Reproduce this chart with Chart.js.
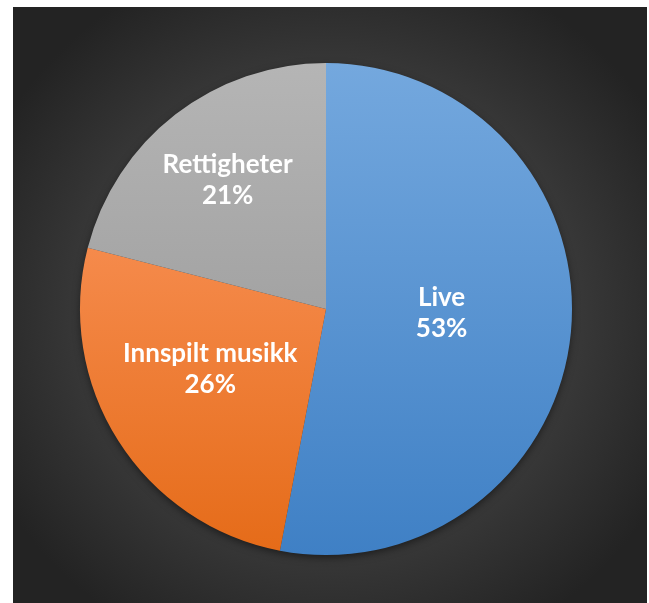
<!DOCTYPE html>
<html>
<head>
<meta charset="utf-8">
<script src="https://cdn.jsdelivr.net/npm/chart.js@4"></script>
<style>
  html, body { margin: 0; padding: 0; background: #fff; }
  #wrap {
    position: absolute; left: 13px; top: 7px; width: 634px; height: 596px;
    background: radial-gradient(ellipse 60% 62% at 50% 51%, #4a4a4a 0%, #3e3e3e 55%, #2c2c2c 85%, #232323 100%);
  }
  #holder { position: absolute; left: 0; top: 0; width: 649px; height: 603px; }
</style>
</head>
<body>
<div id="wrap"></div>
<div id="holder"><canvas id="pie"></canvas></div>
<script>
var categories = ['Live', 'Innspilt musikk', 'Rettigheter'];
var shares = [53, 26, 21];

// vertical gradient stops per slice, over the pie's height
var sliceStops = [
    [[0, '#74a8de'], [1, '#3f80c5']],
    [[0, '#f68c4d'], [0.38, '#f58a4b'], [1, '#e56b18']],
    [[0, '#b5b5b5'], [0.5, '#a3a3a3'], [1, '#9c9c9c']]
];
// label anchor per slice: part of the radius, plus a small turn in degrees
var labelRadius = [0.47, 0.53, 0.66];
var labelTurn = [-3.5, 5, 0.5];

function sliceFill(ctx) {
    var chart = ctx.chart;
    var area = chart.chartArea;
    if (!area) return sliceStops[ctx.dataIndex][0][1];
    var g = chart.ctx.createLinearGradient(0, area.top, 0, area.bottom);
    sliceStops[ctx.dataIndex].forEach(function (s) { g.addColorStop(s[0], s[1]); });
    return g;
}

var pieShadow = {
    id: 'pieShadow',
    beforeDatasetsDraw: function (chart) {
        var arc = chart.getDatasetMeta(0).data[0];
        if (!arc) return;
        var c = chart.ctx;
        c.save();
        c.shadowColor = 'rgba(0,0,0,0.55)';
        c.shadowBlur = 9;
        c.shadowOffsetY = 3;
        c.fillStyle = '#3a3a3a';
        c.beginPath();
        c.arc(arc.x, arc.y, arc.outerRadius - 1, 0, Math.PI * 2);
        c.fill();
        c.restore();
    }
};

var sliceLabels = {
    id: 'sliceLabels',
    afterDatasetsDraw: function (chart) {
        var c = chart.ctx;
        var meta = chart.getDatasetMeta(0);
        c.save();
        c.fillStyle = '#ffffff';
        c.font = 'bold 26px Lato, "Open Sans", sans-serif';
        c.textAlign = 'center';
        c.textBaseline = 'middle';
        meta.data.forEach(function (arc, i) {
            var mid = (arc.startAngle + arc.endAngle) / 2 + labelTurn[i] * Math.PI / 180;
            var r = arc.outerRadius * labelRadius[i];
            var x = arc.x + Math.cos(mid) * r;
            var y = arc.y + Math.sin(mid) * r;
            c.fillText(categories[i], x, y - 15);
            c.fillText(shares[i] + '%', x, y + 16);
        });
        c.restore();
    }
};

new Chart('pie', {
    type: 'pie',
    data: {
        labels: categories,
        datasets: [{
            data: shares,
            backgroundColor: sliceFill,
            borderWidth: 0
        }]
    },
    options: {
        responsive: true,
        maintainAspectRatio: false,
        animation: false,
        layout: { padding: { left: 80, top: 63, right: 77, bottom: 48 } },
        plugins: {
            legend: { display: false },
            tooltip: { enabled: false }
        }
    },
    plugins: [pieShadow, sliceLabels]
});
</script>
</body>
</html>
